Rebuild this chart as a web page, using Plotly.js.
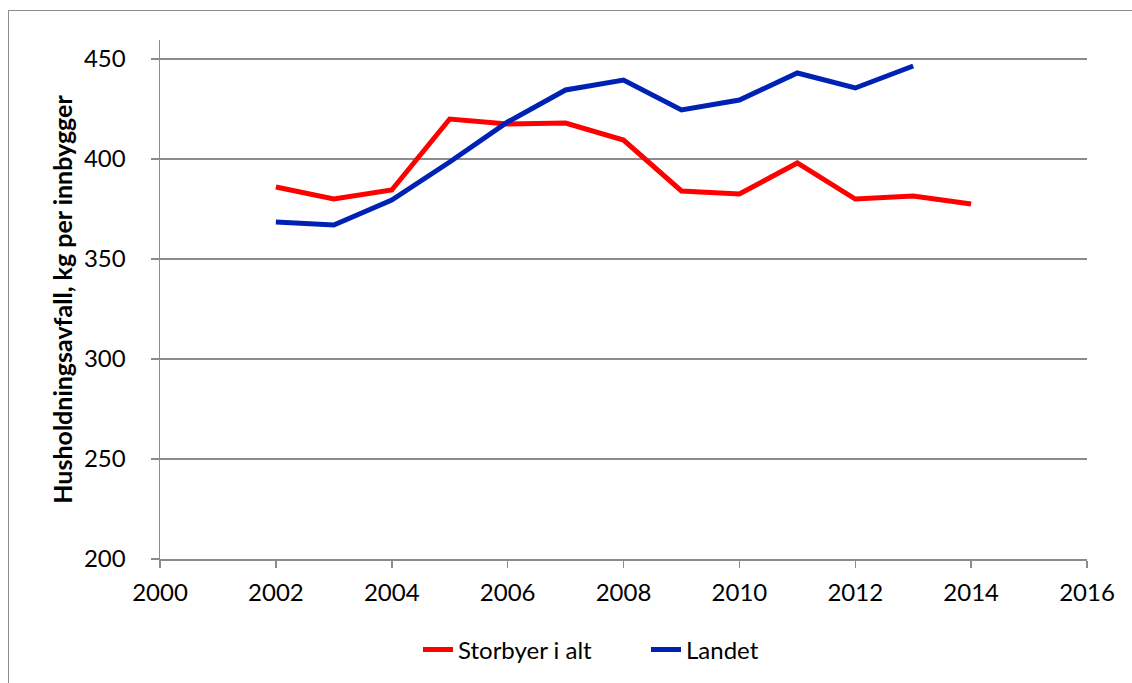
<!DOCTYPE html>
<html>
<head>
<meta charset="utf-8">
<script src="https://cdn.plot.ly/plotly-3.0.1.min.js"></script>
<style>
html,body{margin:0;padding:0;background:#fff;}
#wrap{position:relative;width:1132px;height:683px;overflow:hidden;}
#frame{position:absolute;left:8px;top:10px;width:1200px;height:800px;border-left:1.5px solid #8c8c8c;border-top:1.5px solid #8c8c8c;pointer-events:none;}
#chart{position:absolute;left:0;top:0;width:1132px;height:683px;}
</style>
</head>
<body>
<div id="wrap">
<div id="chart"></div>
<div id="frame"></div>
</div>
<script>
const years = [2002,2003,2004,2005,2006,2007,2008,2009,2010,2011,2012,2013,2014];
const storbyerYears = years;
const storbyer = [386,380,384.5,420,417.5,418,409.5,384,382.5,398,380,381.5,377.5];
const landetYears = years.slice(0,12);
const landet = [368.5,367,379.5,398.5,418.5,434.5,439.5,424.5,429.5,443,435.5,446.5];
const xTicks = [2000,2002,2004,2006,2008,2010,2012,2014,2016];
const yTicks = [200,250,300,350,400,450];
const yTitle = "Husholdningsavfall, kg per innbygger";
const names = ["Storbyer i alt","Landet"];

const traces = [
  {x: storbyerYears, y: storbyer, name: names[0], type:'scatter', mode:'lines',
   line:{color:'#ff0000', width:5}},
  {x: landetYears, y: landet, name: names[1], type:'scatter', mode:'lines',
   line:{color:'#0022b4', width:5}}
];
const font = "Lato, 'Open Sans', sans-serif";
const layout = {
  width:1132, height:683,
  margin:{l:160, r:45, t:40, b:123},
  paper_bgcolor:'#fff', plot_bgcolor:'#fff',
  showlegend:true,
  font:{family:font, size:24, color:'#000'},
  xaxis:{range:[2000,2016], tickvals:xTicks, ticktext:xTicks.map(String),
    showgrid:false, zeroline:false, showline:true, linecolor:'#8c8c8c', linewidth:1.5,
    ticks:'outside', ticklen:7, tickwidth:1.5, tickcolor:'#8c8c8c',
    tickfont:{family:font, size:24, color:'#000'}, ticklabelstandoff:5},
  yaxis:{range:[200,459.5], tickvals:yTicks, ticktext:yTicks.map(String),
    showgrid:true, gridcolor:'#8c8c8c', gridwidth:1.5, zeroline:false,
    showline:true, linecolor:'#8c8c8c', linewidth:1.5,
    ticks:'outside', ticklen:8, tickwidth:1.5, tickcolor:'#8c8c8c',
    tickfont:{family:font, size:24, color:'#000'}, ticklabelstandoff:20,
    title:{text:yTitle, font:{family:font, size:25, color:'#000', weight:'bold'}, standoff:4}},
  legend:{orientation:'h', x:(418-160)/927, xanchor:'left', y:-0.173, yanchor:'middle',
    font:{family:font, size:24, color:'#000'}, entrywidth:183, entrywidthmode:'pixels',
    borderwidth:0, bgcolor:'rgba(0,0,0,0)'}
};
Plotly.newPlot('chart', traces, layout, {displayModeBar:false, staticPlot:true});
</script>
</body>
</html>
